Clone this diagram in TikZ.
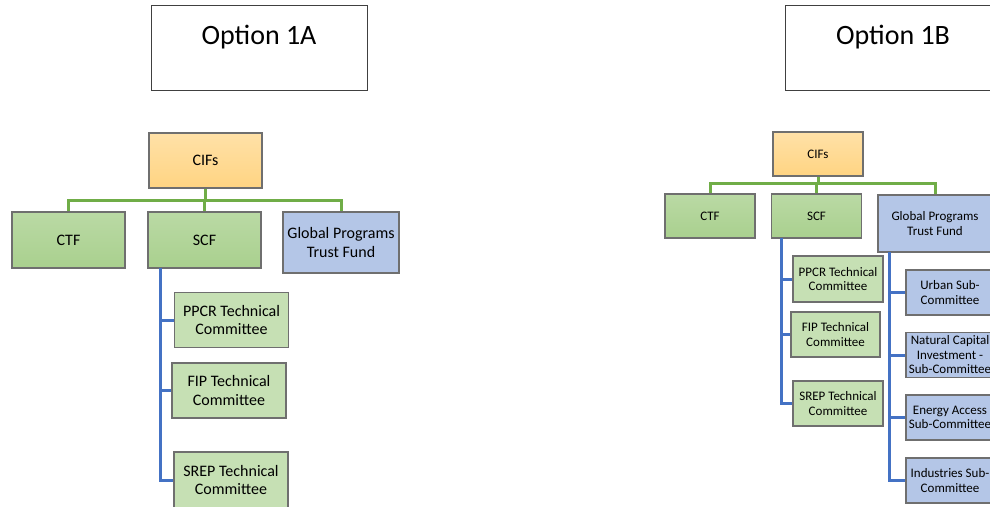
\documentclass[tikz,border=0pt]{standalone}
\usepackage{fontspec}
\setmainfont{Carlito}
\definecolor{cifOrange}{HTML}{FFD482}
\definecolor{fundGreen}{HTML}{A9D08E}
\definecolor{subGreen}{HTML}{C6E0B4}
\definecolor{progBlue}{HTML}{B4C6E7}
\definecolor{linkGreen}{HTML}{70AD47}
\definecolor{linkBlue}{HTML}{4472C4}
\definecolor{edgeGray}{HTML}{6F6F6F}
\begin{document}
\begin{tikzpicture}[x=1pt, y=-1pt,
   box/.style={rectangle, draw=edgeGray, line width=1.5pt, inner sep=0pt, align=center, font=\fontsize{16}{18.5}\selectfont},
   small/.style={font=\fontsize{13}{14.5}\selectfont},
   cif/.style={box, top color=cifOrange!70!white, bottom color=cifOrange},
   fund/.style={box, top color=fundGreen!80!white, bottom color=fundGreen},
   sub/.style={box, fill=subGreen},
   prog/.style={box, fill=progBlue},
   optbox/.style={rectangle, draw=black!75, line width=1pt, minimum width=216pt, minimum height=85pt, text height=20pt, text depth=27pt, font=\fontsize{28}{32}\selectfont},
   gline/.style={draw=linkGreen, line width=3pt},
   bline/.style={draw=linkBlue, line width=3pt}]
   \clip (0,0) rectangle (990,506);
   % Option 1A
   \node[optbox] (optA) at (259,47.5) {Option 1A};
   \node[cif,  minimum width=113pt, minimum height=55pt] (cifA)  at (205.5,160.5) {CIFs};
   \node[fund, minimum width=113pt, minimum height=56pt] (ctfA)  at (68.5,240)    {CTF};
   \node[fund, minimum width=113pt, minimum height=56pt] (scfA)  at (204.5,240)   {SCF};
   \node[prog, minimum width=116pt, minimum height=61pt] (gpfA)  at (341,242.5)   {Global Programs\\Trust Fund};
   \node[sub,  minimum width=114pt, minimum height=55pt] (ppcrA) at (231.5,320)   {PPCR Technical\\Committee};
   \node[sub,  minimum width=114pt, minimum height=55pt] (fipA)  at (229,390.5)   {FIP Technical\\Committee};
   \node[sub,  minimum width=114pt, minimum height=56pt] (srepA) at (231,480)     {SREP Technical\\Committee};
   \coordinate (barA) at (205.5,200);
   \coordinate (spineA) at (160,268);
   \draw[gline] (cifA.south) -- (barA);
   \draw[gline] (ctfA.north) |- (barA) -| (gpfA.north);
   \draw[gline] (scfA.north) -- (scfA.north |- barA);
   \draw[bline] (spineA) |- (srepA.west);
   \draw[bline] (ppcrA.west) -- (ppcrA.west -| spineA);
   \draw[bline] (fipA.west) -- (fipA.west -| spineA);
   % Option 1B
   \node[optbox] (optB) at (893,47.5) {Option 1B};
   \node[cif,  small, minimum width=90pt, minimum height=44pt] (cifB)  at (818,154)   {CIFs};
   \node[fund, small, minimum width=90pt, minimum height=44pt] (ctfB)  at (710,216)   {CTF};
   \node[fund, small, minimum width=90pt, minimum height=44pt] (scfB)  at (816.5,216) {SCF};
   \node[prog, small, minimum width=114pt, minimum height=57pt] (gpfB) at (935,223.5) {Global Programs\\Trust Fund};
   \node[sub,  small, minimum width=90pt, minimum height=46pt] (ppcrB) at (838,279)   {PPCR Technical\\Committee};
   \node[sub,  small, minimum width=89pt, minimum height=45pt] (fipB)  at (835.5,334.5) {FIP Technical\\Committee};
   \node[sub,  small, minimum width=90pt, minimum height=45pt] (srepB) at (838,403.5) {SREP Technical\\Committee};
   \node[prog, small, minimum width=88pt, minimum height=45pt] (urbB)  at (950,292.5) {Urban Sub-\\Committee};
   \node[prog, small, minimum width=88pt, minimum height=45pt] (natB)  at (950,355)   {Natural Capital\\Investment -\\Sub-Committee};
   \node[prog, small, minimum width=88pt, minimum height=45pt] (enB)   at (950,417.5) {Energy Access\\Sub-Committee};
   \node[prog, small, minimum width=88pt, minimum height=45pt] (indB)  at (950,480.5) {Industries Sub-\\Committee};
   \coordinate (barB) at (818,183);
   \coordinate (spineB) at (781,238);
   \coordinate (progspineB) at (889,252);
   \draw[gline] (cifB.south) -- (barB);
   \draw[gline] (ctfB.north) |- (barB) -| (gpfB.north);
   \draw[gline] (scfB.north) -- (scfB.north |- barB);
   \draw[bline] (spineB) |- (srepB.west);
   \draw[bline] (ppcrB.west) -- (ppcrB.west -| spineB);
   \draw[bline] (fipB.west) -- (fipB.west -| spineB);
   \draw[bline] (progspineB) |- (indB.west);
   \draw[bline] (urbB.west) -- (urbB.west -| progspineB);
   \draw[bline] (natB.west) -- (natB.west -| progspineB);
   \draw[bline] (enB.west) -- (enB.west -| progspineB);
\end{tikzpicture}
\end{document}
